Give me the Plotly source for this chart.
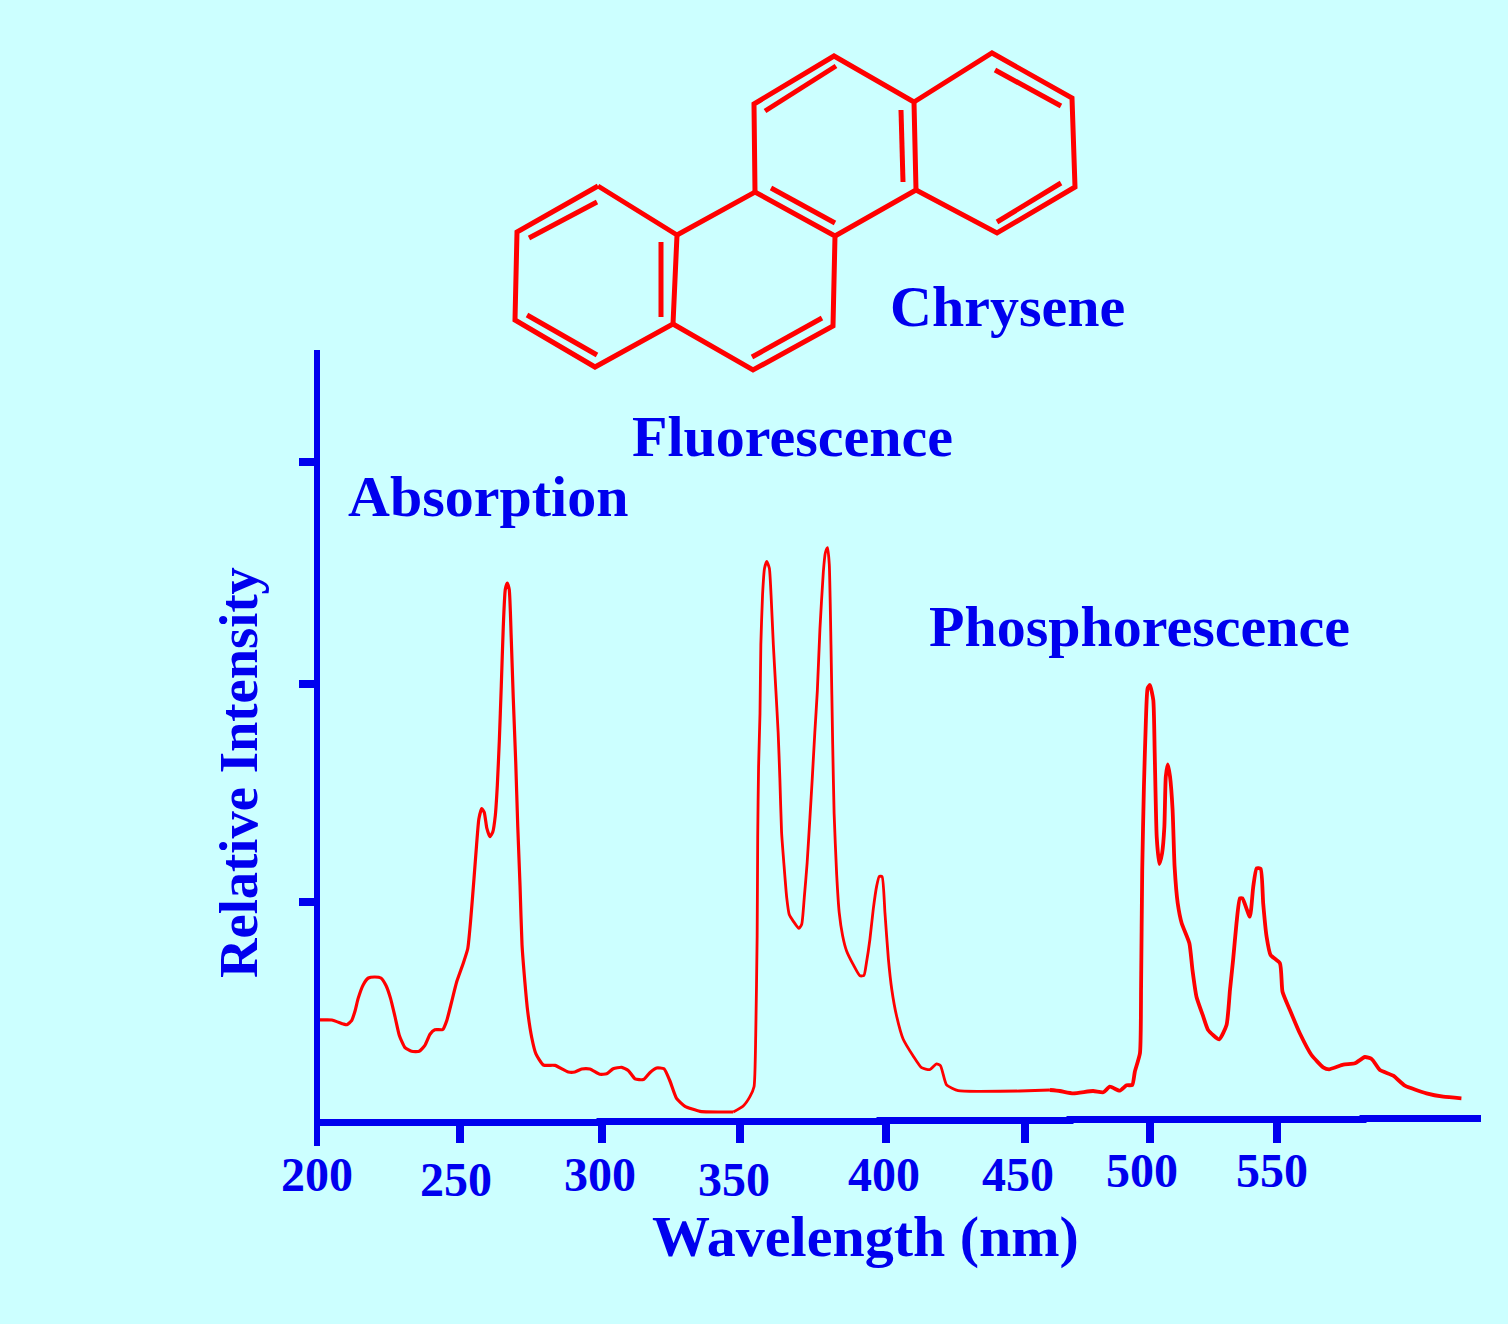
import plotly.graph_objects as go

BLUE = '#0000EE'
RED = '#FF0000'
BG = '#CCFFFF'
SERIF = 'Liberation Serif'
W, H = 1508, 1324

# spectra, x on the drawing's own linear scale, intensity in arbitrary units
abs_x = [200.7, 205.2, 209.3, 210.5, 212.2, 213.4, 214.5, 216.3, 218.1, 220.4, 222.5, 224.3, 225.9, 227.5, 229.0,
         231.0, 233.3, 236.0, 238.0, 239.8, 241.5, 244.3, 245.7, 247.4, 249.2, 251.5, 253.1, 254.1, 255.3, 256.2,
         257.0, 258.0, 258.9, 259.8, 260.9, 261.9, 262.8, 263.5, 264.2, 264.9, 265.6, 266.3, 267.0, 267.7, 268.4,
         269.1, 270.0, 270.7, 271.5, 272.2, 273.2, 274.2, 275.6, 277.1, 279.7, 283.8, 288.5, 290.8, 293.2, 296.1,
         299.6, 302.0, 304.3, 307.3, 309.6, 312.0, 314.9, 317.2, 319.6, 322.2, 324.3, 326.6, 329.6, 334.9, 346.6]
abs_y = [102, 102, 98, 97.3, 101.4, 111, 123.6, 137.3, 144, 145, 144, 136.5, 123.6, 105, 86.6,
         74.4, 70.7, 70.7, 76.6, 87.7, 92.2, 92.5, 101.4, 120, 140.2, 158.7, 173.5, 201.3, 244, 277.1,
         303, 313.4, 309.7, 293.8, 285.3, 290, 306.7, 336.3, 380.7, 436.2, 495.4, 532.4, 539, 532.4, 484.3,
         425.1, 358.5, 295.6, 236.4, 177.2, 140.2, 110.6, 84.8, 68.1, 57, 56.6, 50, 50, 53, 53,
         47.8, 48.2, 53.2, 54.7, 51.6, 43.2, 42.4, 49.3, 54, 53.2, 41, 23.7, 15.7, 10.7, 10]

flu_x = [346.6, 350.1, 352.5, 353.9, 354.5, 355.0, 355.2, 355.5, 356.0, 356.3, 356.9, 357.6, 358.4, 359.3, 359.9,
         360.7, 361.6, 362.4, 363.0, 363.6, 364.4, 365.4, 366.3, 367.7, 369.7, 370.7, 371.6, 372.6, 373.6, 374.4,
         375.3, 376.2, 377.1, 378.3, 379.0, 379.8, 380.4, 381.0, 381.6, 382.1, 383.0, 383.9, 385.1, 386.5, 388.8,
         391.2, 392.6, 393.5, 394.7, 395.9, 397.1, 398.0, 399.0, 400.0, 401.2, 402.4, 404.1, 406.4, 410.0, 412.9,
         415.8, 418.2, 419.6, 421.7, 425.8, 433.5, 447.5, 458.1]
flu_y = [10, 16, 25.6, 35.2, 87, 186.3, 286, 355, 408.3, 477.2, 527, 553.7, 560.6, 553.7, 527,
         477.2, 431.3, 389.2, 343.2, 289.7, 259, 224.6, 207.4, 200.9, 193.6, 197.8, 224.6, 259, 305, 343.2,
         389.2, 431.3, 492.5, 550, 569, 574.4, 557.6, 477.2, 377.7, 308.8, 247.6, 209.3, 186.3, 171, 157.6,
         146.2, 146.5, 159.5, 182.5, 213.1, 236.1, 245.7, 245.3, 209.3, 163.4, 132.8, 106, 83, 65.8, 54.3,
         52.4, 58.1, 56.2, 37.1, 31.3, 30.6, 31, 32]

pho_x = [458.1, 461.6, 466.3, 473.3, 476.9, 479.2, 482.7, 485.1, 487.1, 488.0, 489.8, 490.2, 490.6, 491.2, 491.9,
         492.5, 493.3, 494.5, 495.0, 495.7, 496.6, 497.6, 498.4, 498.9, 499.6, 500.4, 501.3, 502.0, 503.1, 504.5,
         507.2, 508.3, 509.7, 512.1, 513.8, 517.7, 520.3, 521.5, 522.6, 523.8, 525.0, 525.9, 528.5, 529.7, 530.9,
         532.3, 533.2, 534.4, 535.8, 539.1, 540.0, 542.6, 546.1, 550.2, 554.3, 556.4, 561.4, 565.5, 569.0, 571.4,
         574.3, 579.0, 583.1, 590.7, 596.6, 603.0]
pho_y = [32, 31, 28.7, 31, 29.7, 35.3, 31.3, 36.7, 37, 50.3, 68.7, 135.3, 252, 335.3, 402,
         433.7, 437, 422, 368.7, 285.3, 258, 268.7, 295.3, 345.3, 357.7, 345.3, 312, 255.3, 218.7, 198.7,
         178.7, 152, 125.3, 105.3, 92, 82.7, 97, 132, 162, 198.7, 223.7, 223.7, 205.3, 235.3, 253.7,
         253.3, 218.7, 185.3, 167, 158.7, 130.3, 112, 88.7, 67, 54.7, 52.7, 57.3, 58.7, 65, 63,
         52, 46.3, 36.3, 28.7, 25.3, 23.7]

# the original axis is not evenly spaced
x_tick_pos = [250.3, 300.3, 348.9, 400.2, 449.3, 493.5, 538.2]
x_tick_text = ['200', '250', '300', '350', '400', '450', '500', '550']
y_tick_pos = [220, 438, 660]

# tick labels sit unevenly in the original, page position of each
label_px = [317, 456, 600, 734, 883.5, 1017.5, 1141.5, 1272]
label_py = [1174.5, 1179.5, 1174.5, 1179.5, 1174.5, 1174.5, 1170, 1170]

# bottom axis runs slightly uphill, in steps
base_px = [317, 600, 880, 1070, 1363, 1481]
base_py = [1122.5, 1121.5, 1120.5, 1119.5, 1118.5, 1118.5]
# left axis carries on below the bottom axis as the 200 tick
stub_px = [317, 317]
stub_py = [1119, 1146]

# chrysene skeleton, page position
ring1_px = [598, 517, 515, 595, 673, 677, 598]
ring1_py = [186, 232, 320, 367, 324, 235, 186]
ring2_px = [677, 755, 835, 833, 753, 673]
ring2_py = [235, 192, 236, 326, 370, 324]
ring3_px = [755, 754, 834, 914, 916, 835]
ring3_py = [192, 104, 56, 102, 190, 236]
ring4_px = [914, 992, 1072, 1075, 997, 916]
ring4_py = [102, 53, 98, 187, 233, 190]
double_px = [529, 597, None, 661, 661, None, 527, 597, None, 752, 822, None, 771, 835, None,
             765, 836, None, 901, 903, None, 995, 1061, None, 997, 1061]
double_py = [238, 202, None, 242, 317, None, 315, 355, None, 357, 318, None, 188, 223, None,
             111, 66, None, 110, 182, None, 70, 106, None, 222, 183]

fig = go.Figure()

spec_line = dict(color=RED, shape='spline', smoothing=0.5)
fig.add_trace(go.Scatter(x=abs_x, y=abs_y, mode='lines', name='Absorption', line=dict(width=3.2, **spec_line)))
fig.add_trace(go.Scatter(x=flu_x, y=flu_y, mode='lines', name='Fluorescence', line=dict(width=2.8, **spec_line)))
fig.add_trace(go.Scatter(x=pho_x, y=pho_y, mode='lines', name='Phosphorescence', line=dict(width=3.8, **spec_line)))

# second pair of axes covers the whole page, for the molecule and the bottom line
fig.add_trace(go.Scatter(x=base_px, y=base_py, mode='lines', xaxis='x2', yaxis='y2',
                         line=dict(color=BLUE, width=7, shape='hv')))
fig.add_trace(go.Scatter(x=stub_px, y=stub_py, mode='lines', xaxis='x2', yaxis='y2',
                         line=dict(color=BLUE, width=6)))
for px, py in [(ring1_px, ring1_py), (ring2_px, ring2_py), (ring3_px, ring3_py), (ring4_px, ring4_py)]:
    fig.add_trace(go.Scatter(x=px, y=py, mode='lines', xaxis='x2', yaxis='y2',
                             line=dict(color=RED, width=5)))
fig.add_trace(go.Scatter(x=double_px, y=double_py, mode='lines', xaxis='x2', yaxis='y2',
                         line=dict(color=RED, width=5), connectgaps=False))


def page_text(text, px, py, size):
    fig.add_annotation(text=text, x=px, y=py, xref='x2', yref='y2', showarrow=False,
                       xanchor='center', yanchor='middle',
                       font=dict(family=SERIF, size=size, color=BLUE))


for lab, px, py in zip(x_tick_text, label_px, label_py):
    page_text('<b>%s</b>' % lab, px, py, 48)

page_text('<b>Chrysene</b>', 1007, 306.5, 58)
page_text('<b>Fluorescence</b>', 792, 436, 58)
page_text('<b>Absorption</b>', 488, 496, 58)
page_text('<b>Phosphorescence</b>', 1139.5, 626, 58)
page_text('<b>Wavelength (nm)</b>', 865, 1236.5, 58)
fig.add_annotation(text='<b>Relative Intensity</b>', x=238, y=773, xref='x2', yref='y2', showarrow=False,
                   textangle=-90, xanchor='center', yanchor='middle',
                   font=dict(family=SERIF, size=54.6, color=BLUE))

fig.update_layout(
    width=W, height=H,
    margin=dict(l=0, r=0, t=0, b=0),
    paper_bgcolor=BG, plot_bgcolor='rgba(0,0,0,0)',
    showlegend=False, hovermode=False,
    xaxis=dict(domain=[320 / W, 1481 / W], range=[201.06, 609.9], tickmode='array', tickvals=x_tick_pos,
               showticklabels=False, ticks='outside', ticklen=20, tickwidth=8, tickcolor=BLUE,
               showgrid=False, zeroline=False, showline=False),
    yaxis=dict(domain=[(H - 1122) / H, (H - 350) / H], range=[0, 772], tickmode='array', tickvals=y_tick_pos,
               showticklabels=False, ticks='outside', ticklen=15, tickwidth=8, tickcolor=BLUE,
               showgrid=False, zeroline=False, showline=True, linewidth=6, linecolor=BLUE),
    xaxis2=dict(domain=[0, 1], range=[0, W], visible=False, anchor='y2'),
    yaxis2=dict(domain=[0, 1], range=[H, 0], visible=False, anchor='x2'),
)

# page body has a default margin that would shift everything
fig.write_html("out.html", config=dict(displayModeBar=False), post_script="document.body.style.margin='0';")
